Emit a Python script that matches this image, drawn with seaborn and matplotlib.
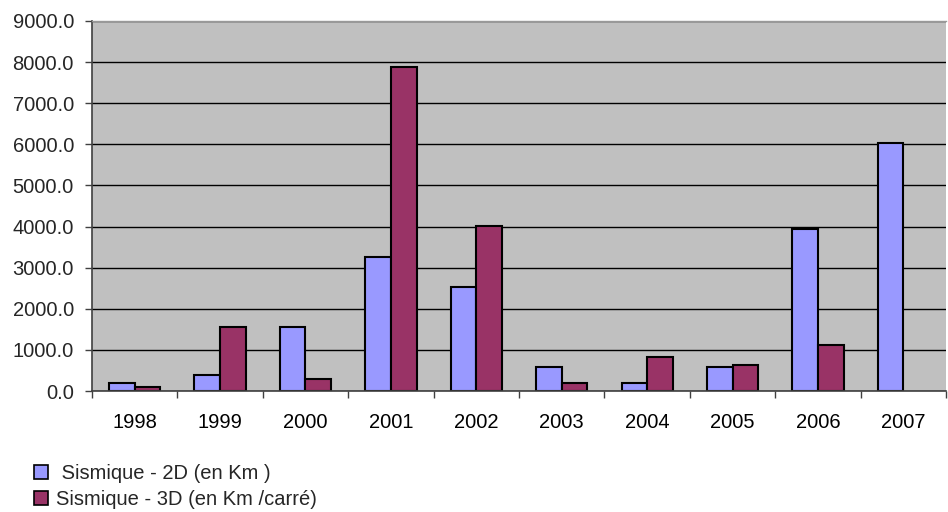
import matplotlib
matplotlib.use("Agg")
import matplotlib.pyplot as plt
import matplotlib.ticker as mticker
from matplotlib.patches import Patch
import seaborn as sns
import pandas as pd

years = ["1998", "1999", "2000", "2001", "2002", "2003", "2004", "2005", "2006", "2007"]
sismique_2d = [190, 380, 1550, 3250, 2530, 575, 190, 575, 3930, 6030]
sismique_3d = [90, 1550, 285, 7880, 4020, 190, 820, 625, 1110, 0]
series_names = [" Sismique - 2D (en Km )", "Sismique - 3D (en Km /carré)"]
colors = ["#9999FF", "#993366"]

df = pd.DataFrame({
    "year": years * 2,
    "value": sismique_2d + sismique_3d,
    "series": [series_names[0]] * len(years) + [series_names[1]] * len(years),
})

sns.set_theme(style="white")
plt.rcParams["font.family"] = ["Liberation Sans", "DejaVu Sans"]

fig = plt.figure(figsize=(9.48, 5.12), dpi=100)
ax = fig.add_axes([0.097, 0.2363, 0.901, 0.7227])
ax.set_facecolor("#C0C0C0")

sns.barplot(data=df, x="year", y="value", hue="series", palette=colors,
            width=0.6, edgecolor="black", linewidth=1.5, ax=ax, legend=False,
            saturation=1)
for p in ax.patches:
    if p.get_height() == 0:
        p.set_visible(False)

ax.set_ylim(0, 9000)
ax.set_xlim(-0.5, len(years) - 0.5)
ax.yaxis.set_major_locator(mticker.MultipleLocator(1000))
ax.yaxis.set_major_formatter(mticker.FormatStrFormatter("%.1f"))
ax.grid(axis="y", color="black", linewidth=1)
ax.set_axisbelow(True)
ax.set_xlabel("")
ax.set_ylabel("")

ax.set_xticks(range(len(years)))
ax.set_xticklabels(years)
ax.set_xticks([i - 0.5 for i in range(len(years) + 1)], minor=True)
ax.tick_params(axis="x", which="major", length=0, pad=16, labelsize=14.5, colors="black")
ax.tick_params(axis="x", which="minor", length=5, width=1, color="#404040", direction="out", bottom=True)
ax.tick_params(axis="y", which="major", length=5, width=1, color="#404040", direction="out", left=True, labelsize=14.5, pad=8)

for side in ["left", "bottom"]:
    ax.spines[side].set_color("#404040")
    ax.spines[side].set_linewidth(1.2)
ax.spines["top"].set_color("#999999")
ax.spines["top"].set_linewidth(1)
ax.spines["right"].set_visible(False)

handles = [Patch(facecolor=c, edgecolor="black", linewidth=1.2) for c in colors]
fig.legend(handles, series_names, loc="lower left", bbox_to_anchor=(0.036, 0.005),
           frameon=False, fontsize=14.5, handlelength=0.7, handleheight=0.7,
           handletextpad=0.4, labelspacing=0.35, borderpad=0.0, borderaxespad=0.0)

fig.savefig("out.png", dpi=100, facecolor="white")
